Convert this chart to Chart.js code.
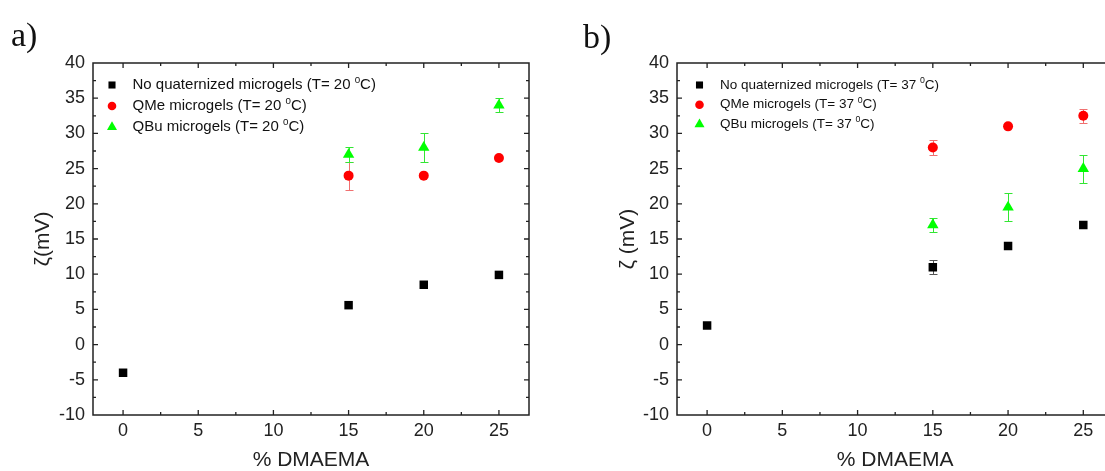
<!DOCTYPE html>
<html><head><meta charset="utf-8">
<script src="https://cdn.jsdelivr.net/npm/chart.js@4"></script>
<style>
html,body{margin:0;padding:0;background:#fff;overflow:hidden;width:1105px;height:471px;}
#wrap{position:relative;width:1105px;height:471px;overflow:hidden;background:#fff;}
.panel{position:absolute;top:0;height:471px;}
#pa{left:0;width:552px;}
#pb{left:560px;width:560px;}
.lbl{position:absolute;font-family:"Liberation Serif","Times New Roman",serif;font-size:34px;line-height:34px;color:#111;}
</style></head><body>
<div id="wrap">
<div class="panel" id="pa"><canvas id="ca" width="552" height="471"></canvas></div>
<div class="panel" id="pb"><canvas id="cb" width="560" height="471"></canvas></div>
<div class="lbl" style="left:11px;top:18px">a)</div>
<div class="lbl" style="left:583px;top:20px">b)</div>
</div>
<script>
// ---- data ----
const dmaema = [0, 15, 20, 25];
const xTickValues = [0, 5, 10, 15, 20, 25];
const yTickValues = [-10, -5, 0, 5, 10, 15, 20, 25, 30, 35, 40];
const xTitle = '% DMAEMA';
const yTitleA = 'ζ(mV)';
const yTitleB = 'ζ (mV)';

const namesA = ['No quaternized microgels (T= 20 ⁰C)', 'QMe microgels (T= 20 ⁰C)', 'QBu microgels (T= 20 ⁰C)'];
const namesB = ['No quaternized microgels (T= 37 ⁰C)', 'QMe microgels (T= 37 ⁰C)', 'QBu microgels (T= 37 ⁰C)'];

const noQuat20 = [-4, 5.6, 8.5, 9.9];
const noQuat20Err = [0, 0, 0, 0];
const qme20 = [null, 24, 24, 26.5];
const qme20Err = [null, 2, 0, 0];
const qbu20 = [null, 27, 28, 34];
const qbu20Err = [null, 1, 2, 1];

const noQuat37 = [2.7, 11, 14, 17];
const noQuat37Err = [0, 1, 0, 0];
const qme37 = [null, 28, 31, 32.5];
const qme37Err = [null, 1, 0, 1];
const qbu37 = [null, 17, 19.5, 25];
const qbu37Err = [null, 1, 2, 2];

// ---- helpers ----
const ff = '"Liberation Sans", Arial, Helvetica, sans-serif';
function pts(vals, errs) {
  return dmaema.map((x, i) => ({x: x, y: vals[i], e: errs[i]})).filter(p => p.y !== null && p.y !== undefined);
}
function drawMarker(ctx, style, r, x, y) {
  ctx.beginPath();
  if (style === 'rect') {
    const s = r * Math.SQRT1_2;
    ctx.rect(x - s, y - s, 2 * s, 2 * s);
  } else if (style === 'triangle') {
    for (let k = 0; k < 3; k++) {
      const a = k * 2 * Math.PI / 3;
      const px = x + Math.sin(a) * r, py = y - Math.cos(a) * r;
      if (k === 0) ctx.moveTo(px, py); else ctx.lineTo(px, py);
    }
    ctx.closePath();
  } else {
    ctx.arc(x, y, r, 0, Math.PI * 2);
  }
  ctx.fill();
}

const errorBarPlugin = {
  id: 'errorBars',
  beforeDatasetsDraw(chart) {
    const ctx = chart.ctx, xs = chart.scales.x, ys = chart.scales.y;
    ctx.save();
    chart.data.datasets.forEach((ds, di) => {
      if (!chart.isDatasetVisible(di)) return;
      ctx.strokeStyle = ds.errorColor;
      ctx.lineWidth = 1;
      ds.data.forEach(p => {
        if (!p.e) return;
        const px = Math.round(xs.getPixelForValue(p.x)) + 0.5;
        const t = Math.round(ys.getPixelForValue(p.y + p.e)) + 0.5;
        const b = Math.round(ys.getPixelForValue(p.y - p.e)) + 0.5;
        ctx.beginPath();
        ctx.moveTo(px, t); ctx.lineTo(px, b);
        ctx.moveTo(px - 4, t); ctx.lineTo(px + 4, t);
        ctx.moveTo(px - 4, b); ctx.lineTo(px + 4, b);
        ctx.stroke();
      });
    });
    ctx.restore();
  }
};

const framePlugin = {
  id: 'frame',
  afterDatasetsDraw(chart) {
    const ctx = chart.ctx, a = chart.chartArea, xs = chart.scales.x, ys = chart.scales.y;
    ctx.save();
    ctx.strokeStyle = '#222';
    ctx.lineWidth = 1.5;
    ctx.strokeRect(a.left, a.top, a.right - a.left, a.bottom - a.top);
    ctx.lineWidth = 1.3;
    ctx.beginPath();
    const major = 5, minor = 3;
    const xv = xs.ticks.map(t => t.value), yv = ys.ticks.map(t => t.value);
    const mids = v => v.slice(1).map((w, i) => (w + v[i]) / 2);
    const hx = (vals, len) => vals.forEach(v => {
      const px = xs.getPixelForValue(v);
      if (px <= a.left + 1 || px >= a.right - 1) return;
      ctx.moveTo(px, a.bottom); ctx.lineTo(px, a.bottom - len);
      ctx.moveTo(px, a.top); ctx.lineTo(px, a.top + len);
    });
    const hy = (vals, len) => vals.forEach(v => {
      const py = ys.getPixelForValue(v);
      if (py <= a.top + 1 || py >= a.bottom - 1) return;
      ctx.moveTo(a.left, py); ctx.lineTo(a.left + len, py);
      ctx.moveTo(a.right, py); ctx.lineTo(a.right - len, py);
    });
    hx(xv, major); hx(mids(xv), minor);
    hy(yv, major); hy(mids(yv), minor);
    ctx.stroke();
    ctx.restore();
  }
};

const legendPlugin = {
  id: 'inLegend',
  afterDatasetsDraw(chart, args, opts) {
    const ctx = chart.ctx, a = chart.chartArea;
    ctx.save();
    chart.data.datasets.forEach((ds, i) => {
      const cy = a.top + opts.y0 + i * opts.step;
      const mx = a.left + opts.markerX;
      ctx.fillStyle = ds.backgroundColor;
      drawMarker(ctx, ds.pointStyle, ds.legendRadius, mx, cy);
      let tx = a.left + opts.textX;
      ctx.fillStyle = '#111';
      ctx.textBaseline = 'middle';
      ctx.textAlign = 'left';
      const parts = ds.label.split('⁰');
      ctx.font = opts.fontSize + 'px ' + ff;
      ctx.fillText(parts[0], tx, cy);
      tx += ctx.measureText(parts[0]).width;
      if (parts.length > 1) {
        ctx.font = (opts.fontSize * 0.65) + 'px ' + ff;
        ctx.fillText('0', tx, cy - opts.fontSize * 0.33);
        tx += ctx.measureText('0').width;
        ctx.font = opts.fontSize + 'px ' + ff;
        ctx.fillText(parts[1], tx, cy);
      }
    });
    ctx.restore();
  }
};

function makeDatasets(names, s1, e1, s2, e2, s3, e3) {
  return [
    {label: names[0], data: pts(s1, e1), pointStyle: 'rect', pointRadius: 6, legendRadius: 5,
     backgroundColor: '#000000', borderColor: '#000000', pointBorderWidth: 0, errorColor: '#555555', showLine: false},
    {label: names[1], data: pts(s2, e2), pointStyle: 'circle', pointRadius: 5, legendRadius: 4.3,
     backgroundColor: '#ff0000', borderColor: '#ff0000', pointBorderWidth: 0, errorColor: '#f07070', showLine: false},
    {label: names[2], data: pts(s3, e3), pointStyle: 'triangle', pointRadius: 6.6, legendRadius: 5.8,
     backgroundColor: '#00ff00', borderColor: '#00ff00', pointBorderWidth: 0, errorColor: '#33e633', showLine: false}
  ];
}

function makeChart(id, cfg) {
  return new Chart(document.getElementById(id), {
    type: 'scatter',
    data: {datasets: cfg.datasets},
    options: {
      responsive: false, animation: false, events: [],
      layout: {padding: {left: 0, top: 63, right: cfg.padRight, bottom: 0}},
      plugins: {legend: {display: false}, tooltip: {enabled: false}, inLegend: cfg.legend},
      scales: {
        x: {
          type: 'linear', min: -2, max: 27,
          afterBuildTicks: s => { s.ticks = xTickValues.map(v => ({value: v})); },
          afterFit: s => { s.height = 56; },
          grid: {display: false, drawTicks: false}, border: {display: false},
          ticks: {color: '#222', padding: 5, font: {family: ff, size: 18}, maxRotation: 0, autoSkip: false, callback: v => String(v)},
          title: {display: true, text: xTitle, color: '#222', font: {family: ff, size: 21, lineHeight: 1}, padding: {top: 0, bottom: 0}}
        },
        y: {
          type: 'linear', min: -10, max: 40,
          afterBuildTicks: s => { s.ticks = yTickValues.map(v => ({value: v})); },
          afterFit: s => { s.width = cfg.yWidth; },
          grid: {display: false, drawTicks: false}, border: {display: false},
          ticks: {color: '#222', padding: 8, font: {family: ff, size: 18}, autoSkip: false, callback: v => String(v)},
          title: {display: true, text: cfg.yTitle, color: '#222', font: {family: ff, size: 21, lineHeight: 1}, padding: {top: cfg.yTitlePad, bottom: 0}}
        }
      }
    },
    plugins: [errorBarPlugin, framePlugin, legendPlugin]
  });
}

makeChart('ca', {
  datasets: makeDatasets(namesA, noQuat20, noQuat20Err, qme20, qme20Err, qbu20, qbu20Err),
  yWidth: 93, padRight: 23, yTitle: yTitleA, yTitlePad: 32.5,
  legend: {markerX: 19, textX: 39.5, y0: 22, step: 21, fontSize: 15}
});
makeChart('cb', {
  datasets: makeDatasets(namesB, noQuat37, noQuat37Err, qme37, qme37Err, qbu37, qbu37Err),
  yWidth: 117, padRight: 6, yTitle: yTitleB, yTitlePad: 57.5,
  legend: {markerX: 22.5, textX: 43, y0: 22, step: 19.7, fontSize: 13.5}
});
</script>
</body></html>
